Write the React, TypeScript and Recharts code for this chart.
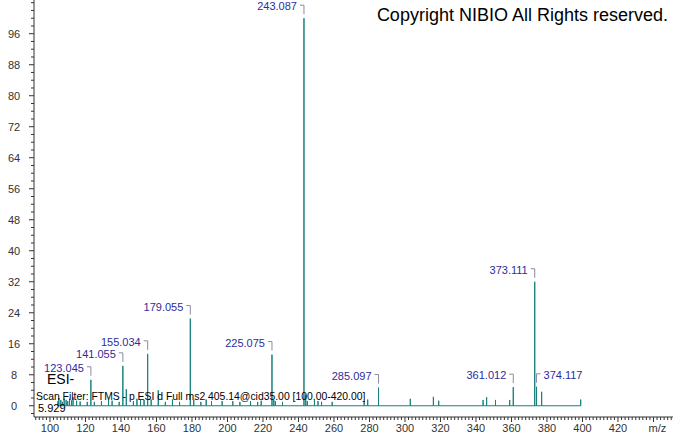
import React from "react";
import { ComposedChart, Line, Scatter, XAxis, YAxis } from "recharts";

// m/z values of all sticks in the spectrum
const PEAK_MZ = [
  104.5, 105.0, 106.1, 107.0, 108.0, 109.1, 110.0, 111.0, 112.1, 113.0, 115.0, 117.0,
  121.0, 123.045, 125.0, 129.0, 133.0, 135.0, 139.0, 141.055, 143.0, 147.0, 149.0,
  151.0, 153.0, 155.034, 157.0, 161.0, 165.0, 169.0, 173.0, 179.055, 181.0, 185.0,
  188.0, 191.0, 197.0, 203.0, 207.0, 213.0, 217.0, 219.0, 225.075, 226.1, 227.0,
  231.0, 243.087, 244.1, 245.0, 249.0, 251.0, 253.0, 259.0, 277.0, 279.0, 285.097,
  303.0, 316.0, 319.0, 344.0, 346.0, 351.0, 359.0, 361.012, 373.111, 374.117, 377.0,
  399.0,
];
// relative intensities (%) of those sticks
const PEAK_INTENSITY = [
  1.2, 2.0, 1.5, 1.0, 1.8, 1.5, 1.2, 1.8, 1.4, 2.2, 1.3, 1.1,
  1.0, 6.7, 1.0, 1.2, 1.5, 1.3, 1.0, 10.3, 4.3, 1.2, 1.8,
  1.5, 1.5, 13.4, 1.6, 4.0, 1.0, 1.6, 1.0, 22.5, 1.5, 1.0,
  1.6, 1.2, 1.2, 1.2, 1.0, 1.2, 1.0, 1.3, 13.2, 1.5, 1.2,
  1.0, 100, 2.8, 1.2, 1.5, 1.2, 1.0, 1.0, 1.2, 1.6, 4.7,
  1.8, 2.3, 1.3, 1.5, 2.2, 1.5, 1.5, 4.8, 32.0, 4.9, 3.6,
  1.6,
];

// annotated peaks
const LABEL_MZ = [123.045, 141.055, 155.034, 179.055, 225.075, 243.087, 285.097, 361.012, 373.111, 374.117];
const LABEL_INTENSITY = [6.7, 10.3, 13.4, 22.5, 13.2, 100, 4.7, 4.8, 32.0, 4.9];
const LABEL_SIDE = ["left", "left", "left", "left", "left", "left", "left", "left", "left", "right"];

// axis ticks
const X_TICKS: number[] = [];
for (let v = 92; v <= 450; v += 2) X_TICKS.push(v);
const Y_TICKS: number[] = [];
for (let v = -2; v <= 104; v += 2) Y_TICKS.push(v);
const X_LABELS = [100, 120, 140, 160, 180, 200, 220, 240, 260, 280, 300, 320, 340, 360, 380, 400, 420];
const Y_LABELS = [0, 8, 16, 24, 32, 40, 48, 56, 64, 72, 80, 88, 96];

const FONT = "'Liberation Sans', Arial, sans-serif";
const TEAL = "#18807e";
const AXIS = "#333";

const stickData = PEAK_MZ.flatMap((mz, i) => [
  { mz, intensity: 0 },
  { mz, intensity: PEAK_INTENSITY[i] },
  { mz, intensity: 0 },
]);

const labelData = LABEL_MZ.map((mz, i) => ({
  mz,
  intensity: LABEL_INTENSITY[i],
  text: mz.toFixed(3),
  side: LABEL_SIDE[i],
}));

const LabelShape = (props: any) => {
  const { cx, cy, payload } = props;
  if (cx == null || cy == null) return null;
  const top = cy - 13;
  const bottom = cy - 4;
  if (payload.side === "right") {
    return (
      <g>
        <path d={`M${cx} ${bottom} V${top} H${cx + 4}`} stroke="#8a8aa6" fill="none" strokeWidth={1} />
        <text x={cx + 7} y={cy - 8} fontSize={11} fill="#2c2c9c" fontFamily={FONT} textAnchor="start">
          {payload.text}
        </text>
      </g>
    );
  }
  return (
    <g>
      <path d={`M${cx - 4} ${top} H${cx} V${bottom}`} stroke="#8a8aa6" fill="none" strokeWidth={1} />
      <text x={cx - 7} y={cy - 8} fontSize={11} fill="#2c2c9c" fontFamily={FONT} textAnchor="end">
        {payload.text}
      </text>
    </g>
  );
};

const YTick = (props: any) => {
  const { x, y, payload } = props;
  const v = payload.value;
  const major = Y_LABELS.includes(v);
  return (
    <g>
      <line x1={x} x2={x - (major ? 5 : 3)} y1={y} y2={y} stroke={AXIS} />
      {major && (
        <text x={x - 20} y={y + 4} textAnchor="middle" fontSize={11} fill="#333" fontFamily={FONT}>
          {v}
        </text>
      )}
    </g>
  );
};

const XTick = (props: any) => {
  const { x, y, payload } = props;
  const v = payload.value;
  const major = v % 20 === 0;
  let label: string | null = null;
  if (X_LABELS.includes(v)) label = String(v);
  if (v === 440) label = "m/z";
  return (
    <g>
      <line x1={x} x2={x} y1={y} y2={y + (major ? 5 : 3)} stroke={AXIS} />
      {label && (
        <text x={v === 440 ? x + 4 : x} y={y + 15} textAnchor="middle" fontSize={11} fill="#333" fontFamily={FONT}>
          {label}
        </text>
      )}
    </g>
  );
};

export default function App() {
  return (
    <div style={{ position: "fixed", left: 0, top: 0, width: 674, height: 434, background: "#fff" }}>
      <ComposedChart
        width={674}
        height={434}
        data={stickData}
        margin={{ top: 0, right: 1, left: 0, bottom: 0 }}
      >
        <XAxis
          dataKey="mz"
          type="number"
          domain={[91, 451]}
          ticks={X_TICKS}
          interval={0}
          height={17}
          tickSize={0}
          tickMargin={0}
          tick={<XTick />}
          axisLine={{ stroke: AXIS }}
          allowDuplicatedCategory={true}
        />
        <YAxis
          type="number"
          domain={[-2.9, 104.7]}
          ticks={Y_TICKS}
          interval={0}
          width={34}
          tickSize={0}
          tickMargin={0}
          tick={<YTick />}
          axisLine={{ stroke: AXIS }}
          allowDataOverflow={true}
        />
        <Line
          dataKey="intensity"
          type="linear"
          stroke={TEAL}
          strokeWidth={1}
          dot={false}
          activeDot={false}
          isAnimationActive={false}
        />
        <Scatter
          data={labelData}
          dataKey="intensity"
          shape={<LabelShape />}
          isAnimationActive={false}
        />
      </ComposedChart>
      <svg
        width={674}
        height={434}
        style={{ position: "absolute", left: 0, top: 0, pointerEvents: "none" }}
      >
        <text x={668} y={21} textAnchor="end" fontSize={18} fill="#000" fontFamily={FONT}>
          Copyright NIBIO All Rights reserved.
        </text>
        <text x={47} y={384} fontSize={14} fill="#000" fontFamily={FONT}>
          ESI-
        </text>
        <text x={36} y={400} fontSize={10.4} fill="#000" fontFamily={FONT}>
          Scan Filter: FTMS - p ESI d Full ms2 405.14@cid35.00 [100.00-420.00]
        </text>
        <text x={38} y={412} fontSize={11} fill="#000" fontFamily={FONT}>
          5.929
        </text>
      </svg>
    </div>
  );
}
